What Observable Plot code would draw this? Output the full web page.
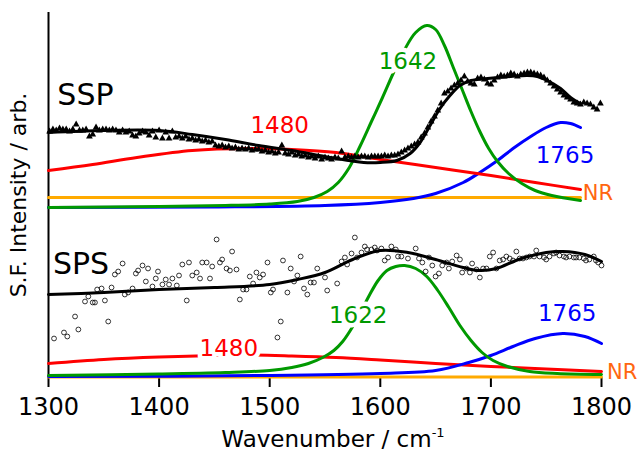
<!DOCTYPE html>
<html>
<head>
<meta charset="utf-8">
<script src="https://cdn.jsdelivr.net/npm/d3@7"></script>
<script src="https://cdn.jsdelivr.net/npm/@observablehq/plot@0.6"></script>
<style>
  body { margin: 0; background: #fff; }
  svg { display: block; }
</style>
</head>
<body>
<div id="chart"></div>
<script>
// Axis
const wavenumberTicks = [1300, 1400, 1500, 1600, 1700, 1800];
const xTitle = "Wavenumber / cm";
const yTitle = "S.F. Intensity / arb.";

// Vertical stacking of the two polarisation spectra
const sspOffset = 1.70;
const spsOffset = 0;

// SSP measured spectrum: [wavenumber, intensity]
const sspMeasured = [
  [1301,0.76],[1304,0.78],[1307,0.77],[1310,0.79],[1313,0.78],[1316,0.78],[1319,0.76],[1322,0.78],[1325,0.83],[1328,0.77],
  [1331,0.77],[1334,0.78],[1337,0.71],[1340,0.73],[1343,0.80],[1346,0.77],[1349,0.78],[1352,0.78],[1355,0.77],[1358,0.78],
  [1361,0.77],[1364,0.75],[1367,0.77],[1370,0.75],[1373,0.76],[1376,0.72],[1379,0.71],[1382,0.74],[1385,0.76],[1388,0.75],
  [1391,0.72],[1394,0.76],[1397,0.70],[1400,0.77],[1403,0.69],[1406,0.75],[1409,0.69],[1412,0.76],[1415,0.70],[1418,0.71],
  [1421,0.69],[1424,0.71],[1427,0.68],[1430,0.69],[1433,0.67],[1436,0.68],[1439,0.66],[1442,0.67],[1445,0.65],[1448,0.66],
  [1451,0.62],[1454,0.61],[1457,0.62],[1460,0.60],[1463,0.61],[1466,0.59],[1469,0.60],[1472,0.58],[1475,0.59],[1478,0.58],
  [1481,0.59],[1484,0.57],[1487,0.58],[1490,0.58],[1493,0.56],[1496,0.57],[1499,0.55],[1502,0.56],[1505,0.54],[1508,0.55],
  [1511,0.62],[1514,0.54],[1517,0.53],[1520,0.55],[1523,0.52],[1526,0.53],[1529,0.51],[1532,0.52],[1535,0.50],[1538,0.51],
  [1541,0.49],[1544,0.51],[1547,0.48],[1550,0.50],[1553,0.49],[1556,0.48],[1559,0.50],[1562,0.49],[1565,0.56],[1568,0.50],
  [1571,0.51],[1574,0.50],[1577,0.51],[1580,0.50],[1583,0.51],[1586,0.51],[1589,0.50],[1592,0.51],[1595,0.51],[1598,0.51],
  [1601,0.51],[1604,0.52],[1607,0.51],[1610,0.52],[1613,0.52],[1616,0.53],[1619,0.55],[1622,0.57],[1625,0.59],[1628,0.61],
  [1631,0.63],[1634,0.65],[1637,0.70],[1640,0.74],[1643,0.80],[1646,0.86],[1649,0.91],[1652,0.97],[1655,1.04],[1658,1.14],
  [1661,1.16],[1664,1.19],[1667,1.22],[1670,1.24],[1673,1.27],[1676,1.31],[1679,1.26],[1682,1.24],[1685,1.23],[1688,1.29],
  [1691,1.30],[1694,1.28],[1697,1.24],[1700,1.23],[1703,1.27],[1706,1.30],[1709,1.32],[1712,1.31],[1715,1.32],[1718,1.34],
  [1721,1.33],[1724,1.31],[1727,1.33],[1730,1.34],[1733,1.35],[1736,1.35],[1739,1.34],[1742,1.33],[1745,1.32],[1748,1.30],
  [1751,1.27],[1754,1.24],[1757,1.21],[1760,1.18],[1763,1.15],[1766,1.12],[1769,1.10],[1772,1.08],[1775,1.05],[1778,1.04],
  [1781,1.03],[1784,1.05],[1787,1.04],[1790,1.03],[1793,1.00],[1796,0.98],[1799,1.04]
];

// SSP fitted curve and its components
const sspFit = [
  [1300,0.75],[1350,0.77],[1400,0.77],[1430,0.73],[1460,0.68],[1490,0.62],[1520,0.57],[1555,0.50],[1585,0.45],
  [1600,0.45],[1615,0.47],[1627,0.54],[1636,0.65],[1645,0.82],[1654,0.99],[1663,1.12],[1672,1.22],[1682,1.27],
  [1697,1.29],[1718,1.31],[1733,1.32],[1742,1.31],[1751,1.27],[1763,1.19],[1772,1.10],[1781,1.04]
];
const ssp1480 = [
  [1300,0.37],[1340,0.43],[1380,0.50],[1430,0.57],[1480,0.59],[1520,0.58],[1560,0.55],[1600,0.48],
  [1650,0.40],[1700,0.32],[1740,0.25],[1781,0.18]
];
const ssp1642 = [
  [1300,0.00],[1400,0.01],[1460,0.02],[1500,0.035],[1525,0.06],[1540,0.10],[1552,0.16],[1562,0.25],[1572,0.40],
  [1582,0.62],[1592,0.86],[1602,1.10],[1612,1.35],[1622,1.58],[1632,1.75],[1642,1.82],[1650,1.78],[1658,1.62],
  [1666,1.40],[1674,1.18],[1682,0.96],[1690,0.76],[1698,0.59],[1706,0.46],[1716,0.34],[1728,0.24],[1740,0.17],
  [1755,0.12],[1781,0.07]
];
const ssp1765 = [
  [1300,0.00],[1450,0.005],[1550,0.02],[1600,0.05],[1630,0.09],[1650,0.14],[1675,0.25],[1690,0.35],[1706,0.47],
  [1720,0.59],[1736,0.71],[1750,0.80],[1763,0.85],[1772,0.84],[1781,0.80]
];
const sspNR = [[1300,0.10],[1781,0.10]];

// SPS measured spectrum: [wavenumber, intensity]
const spsMeasured = [
  [1305,0.39],[1314,0.45],[1317,0.41],[1324,0.61],[1327,0.48],[1333,0.76],[1336,0.81],[1340,0.75],[1342,0.75],[1344,0.88],
  [1348,0.89],[1351,0.77],[1354,0.56],[1357,0.90],[1360,1.03],[1363,1.06],[1367,1.14],[1369,0.83],[1372,0.85],[1376,0.89],
  [1379,1.04],[1381,1.07],[1385,1.12],[1388,0.96],[1390,1.09],[1394,0.91],[1397,0.99],[1399,1.06],[1403,0.93],[1406,0.98],
  [1409,0.93],[1412,0.99],[1416,0.92],[1418,1.02],[1421,1.13],[1425,0.77],[1427,1.15],[1430,1.02],[1434,1.05],[1437,0.99],
  [1439,1.15],[1443,1.15],[1446,0.99],[1448,1.11],[1452,1.38],[1455,1.15],[1457,1.18],[1461,1.09],[1464,1.07],[1466,1.26],
  [1470,1.08],[1473,0.78],[1476,0.88],[1479,0.88],[1482,1.01],[1485,0.94],[1488,1.05],[1491,1.00],[1494,1.03],[1498,1.15],
  [1501,0.85],[1503,0.88],[1507,0.40],[1510,0.56],[1512,1.17],[1516,0.85],[1519,1.09],[1522,0.96],[1525,1.02],[1528,1.21],
  [1531,0.89],[1534,0.83],[1537,0.95],[1540,0.95],[1543,1.09],[1550,1.00],[1552,0.87],[1561,0.94],[1565,1.16],[1568,1.20],
  [1570,1.13],[1574,1.24],[1577,1.40],[1579,1.20],[1583,1.25],[1586,1.31],[1588,1.28],[1592,1.28],[1595,1.30],[1597,1.27],
  [1601,1.29],[1604,1.17],[1607,1.20],[1610,1.31],[1614,1.28],[1616,1.21],[1619,1.21],[1625,1.19],[1632,1.29],[1635,1.19],
  [1638,1.15],[1641,1.06],[1644,1.20],[1647,1.12],[1650,1.01],[1653,1.04],[1656,1.12],[1660,1.15],[1662,1.09],[1665,1.16],
  [1669,1.22],[1672,1.18],[1674,1.05],[1678,1.09],[1681,1.05],[1683,1.14],[1687,1.08],[1690,1.00],[1693,1.09],[1696,1.09],
  [1699,1.21],[1702,1.25],[1705,1.09],[1708,1.17],[1711,1.18],[1714,1.21],[1717,1.19],[1720,1.17],[1723,1.26],[1726,1.19],
  [1729,1.19],[1732,1.20],[1735,1.21],[1739,1.21],[1741,1.27],[1744,1.21],[1748,1.20],[1750,1.18],[1753,1.21],[1757,1.24],
  [1759,1.25],[1762,1.22],[1766,1.21],[1768,1.20],[1771,1.21],[1775,1.20],[1777,1.20],[1780,1.20],[1784,1.19],[1786,1.17],
  [1789,1.18],[1793,1.21],[1795,1.17],[1797,1.15],[1800,1.12]
];

// SPS fitted curve and its components
const spsFit = [
  [1300,0.83],[1350,0.85],[1400,0.88],[1450,0.90],[1500,0.93],[1525,0.98],[1550,1.05],[1575,1.18],[1600,1.27],
  [1625,1.25],[1650,1.18],[1675,1.10],[1690,1.07],[1705,1.09],[1725,1.18],[1750,1.25],[1765,1.26],[1785,1.23],[1800,1.16]
];
const sps1480 = [
  [1300,0.14],[1350,0.18],[1400,0.205],[1450,0.22],[1480,0.225],[1520,0.215],[1560,0.20],[1600,0.175],
  [1650,0.14],[1700,0.11],[1750,0.085],[1800,0.06]
];
const sps1622 = [
  [1300,0.02],[1400,0.035],[1460,0.05],[1500,0.07],[1520,0.10],[1535,0.14],[1548,0.20],[1558,0.27],[1566,0.36],
  [1574,0.49],[1582,0.65],[1590,0.82],[1598,0.97],[1606,1.07],[1614,1.11],[1622,1.12],[1632,1.09],[1642,1.01],
  [1652,0.87],[1662,0.70],[1672,0.52],[1682,0.37],[1692,0.25],[1702,0.17],[1715,0.11],[1735,0.06],[1760,0.04],[1800,0.03]
];
const sps1765 = [
  [1300,0.01],[1500,0.02],[1600,0.04],[1650,0.07],[1680,0.15],[1700,0.22],[1720,0.31],[1740,0.39],[1765,0.44],
  [1785,0.41],[1800,0.34]
];
const spsNR = [[1300,0.005],[1800,0.005]];

// Annotations: [wavenumber, intensity, text]
const sspNames = [[1308,1.12,"SSP"]];
const spsNames = [[1304,1.13,"SPS"]];
const sspPeaks = [[1509,0.82,"1480"],[1625,1.455,"1642"],[1767,0.52,"1765"]];
const spsPeaks = [[1463,0.29,"1480"],[1580,0.62,"1622"],[1769,0.64,"1765"]];
const sspNRLabel = [[1783,0.14,"NR"]];
const spsNRLabel = [[1805,0.05,"NR"]];

const colors = {fit: "#000000", c1480: "#ff0000", green: "#009900", c1765: "#0000ff", nr: "#ffaa00", nrText: "#ff6610"};
const peakColors = [colors.c1480, colors.green, colors.c1765];

const rows = (pts, offset) => pts.map(([wn, v]) => ({wn, y: v + offset}));
const labelRows = (pts, offset) => pts.map(([wn, v, text], i) => ({wn, y: v + offset, text, i}));

const lineOpts = (stroke) => ({x: "wn", y: "y", stroke, strokeWidth: 3, curve: "catmull-rom"});
const halo = {stroke: "#fff", strokeWidth: 9, paintOrder: "stroke"};

const chart = Plot.plot({
  width: 637,
  height: 461,
  marginLeft: 48,
  marginRight: 36,
  marginTop: 12,
  marginBottom: 84,
  style: {fontFamily: "'DejaVu Sans', sans-serif", background: "#fff", overflow: "visible"},
  x: {domain: [1300, 1800]},
  y: {domain: [0, 3.65], axis: null},
  marks: [
    Plot.axisX({ticks: wavenumberTicks, tickFormat: d => `${d}`, tickSize: 10, tickPadding: 10,
      fontSize: 24, strokeWidth: 2, stroke: "#000", fill: "#000", label: null}),
    Plot.ruleX([wavenumberTicks[0]], {stroke: "#000", strokeWidth: 2}),

    // SPS components, data and fit
    Plot.line(rows(spsNR, spsOffset), lineOpts(colors.nr)),
    Plot.line(rows(sps1480, spsOffset), lineOpts(colors.c1480)),
    Plot.line(rows(sps1765, spsOffset), lineOpts(colors.c1765)),
    Plot.line(rows(sps1622, spsOffset), lineOpts(colors.green)),
    Plot.dot(rows(spsMeasured, spsOffset), {x: "wn", y: "y", r: 2.4, stroke: "#000", strokeWidth: 0.8, fill: "none"}),
    Plot.line(rows(spsFit, spsOffset), lineOpts(colors.fit)),

    // SSP components, data and fit
    Plot.line(rows(sspNR, sspOffset), lineOpts(colors.nr)),
    Plot.line(rows(ssp1765, sspOffset), lineOpts(colors.c1765)),
    Plot.line(rows(ssp1480, sspOffset), lineOpts(colors.c1480)),
    Plot.line(rows(ssp1642, sspOffset), lineOpts(colors.green)),
    Plot.dot(rows(sspMeasured, sspOffset), {x: "wn", y: "y", symbol: "triangle", r: 2.5, fill: "#000"}),
    Plot.line(rows(sspFit, sspOffset), lineOpts(colors.fit)),

    // Spectrum names and peak annotations
    Plot.text([...labelRows(sspNames, sspOffset), ...labelRows(spsNames, spsOffset)],
      {x: "wn", y: "y", text: "text", textAnchor: "start", fill: "#000", fontSize: 30, ...halo}),
    Plot.text(labelRows(sspPeaks, sspOffset), {x: "wn", y: "y", text: "text", textAnchor: "middle",
      fill: d => peakColors[d.i], fontSize: 23, ...halo}),
    Plot.text(labelRows(spsPeaks, spsOffset), {x: "wn", y: "y", text: "text", textAnchor: "middle",
      fill: d => peakColors[d.i], fontSize: 23, ...halo}),
    Plot.text([...labelRows(sspNRLabel, sspOffset), ...labelRows(spsNRLabel, spsOffset)],
      {x: "wn", y: "y", text: "text", textAnchor: "start", fill: colors.nrText, fontSize: 21}),

    // Axis titles
    Plot.text([yTitle], {frameAnchor: "left", textAnchor: "middle", rotate: -90, dx: -30, fontSize: 22, fill: "#000"}),
    Plot.text([xTitle], {frameAnchor: "bottom", dx: 8, dy: 69, fontSize: 23, fill: "#000"})
  ]
});

// superscript exponent on the wavenumber unit
d3.select(chart).selectAll("text")
  .filter(function () { return this.textContent === xTitle; })
  .each(function () {
    d3.select(this).append("tspan").attr("dy", "-0.75em").attr("font-size", 13).text("-1");
  });

document.getElementById("chart").appendChild(chart);
</script>
</body>
</html>
